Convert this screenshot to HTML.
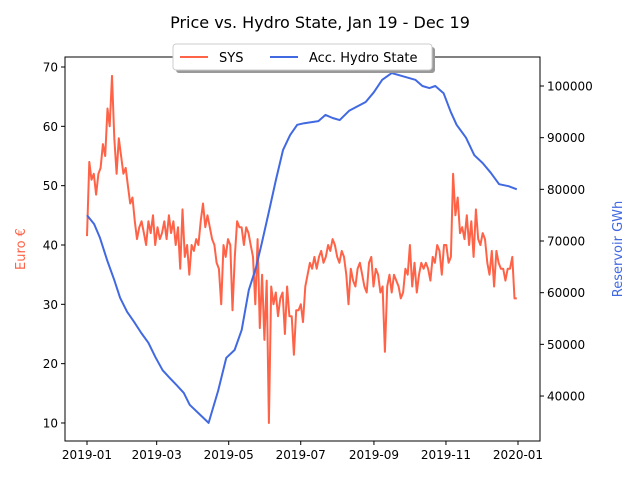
<!DOCTYPE html>
<html><head><meta charset="utf-8"><style>
body{margin:0;background:#fff;font-family:"Liberation Sans","DejaVu Sans",sans-serif}
</style></head><body>
<svg id="c" width="640" height="480" xmlns="http://www.w3.org/2000/svg" font-family="DejaVu Sans, Liberation Sans, sans-serif"></svg>
<script>
const sysValues=[41.5,54,51,52,48.5,52,53,57,55,63,60,68.5,58,52,58,55,52,53,50,47,48,44,41,43,44,42,40,44,42,45,40,43,41,42,44,41,45,42,44,40,43,36,46,38,40,35,40,39,41,40,44,47,43,45,43,41,40,37,36,30,40,38,41,40,29,38,44,43,43,40,43,42,40,38,30,41,26,35,24,34,10,33,30,32,28,31,32,25,33,28,28,21.5,29,29,30,27,33,35,37,36,38,36,38,39,37,38,40,39,41,40,38,37,39,38,35,30,36,34,33,36,37,35,33,32,37,38,33,36,35,32,33,22,33,35,32,35,34,33,31,32,36,35,40,33,37,32,35,37,36,37,36,34,38,37,40,39,35,40,40,37,38,52,45,48,42,43,41,45,40,44,38,46,41,40,42,41,37,35,39,33,39,37,36,36,34,36,36,38,31,31];
const hydroDays=[0,6,11,17,23,28,34,40,46,52,58,64,70,76,82,87,103,111,118,125,131,137,143,148,154,160,166,172,178,184,196,202,208,214,222,236,243,250,258,264,278,284,290,295,302,308,313,321,328,335,342,349,357,364];
const hydroValues=[75000,73300,70600,66300,62500,59000,56300,54300,52200,50300,47500,45000,43500,42100,40600,38300,34800,41000,47400,48900,52800,60500,64800,69600,75600,81800,87600,90500,92500,92800,93200,94400,93800,93400,95200,96900,98800,101200,102500,102100,101200,100000,99600,100000,98600,95000,92500,90000,86600,85100,83200,81000,80600,80000];
const leftTicks=[10,20,30,40,50,60,70];
const rightTicks=[40000,50000,60000,70000,80000,90000,100000];
const xTickLabels=["2019-01","2019-03","2019-05","2019-07","2019-09","2019-11","2020-01"];
const xTickDays=[0,59,120,181,243,304,365];
const L=65,R=540,T=57,B=441;
const X=d=>87+d*(431/365);
const Y1=v=>67+(70-v)*5.933;
const Y2=v=>86+(100000-v)/10000*51.67;
const svg=document.getElementById('c');
const NS='http://www.w3.org/2000/svg';
function el(t,a,txt){const e=document.createElementNS(NS,t);for(const k in a)e.setAttribute(k,a[k]);if(txt!=null)e.textContent=txt;svg.appendChild(e);return e;}
let t=el('text',{x:320,y:28,'text-anchor':'middle','font-size':16},'Price vs. Hydro State, Jan 19 - Dec 19');


let p=sysValues.map((v,i)=>(i?'L':'M')+X(i*364/(sysValues.length-1)).toFixed(1)+' '+Y1(v).toFixed(1)).join('');
let s=el('path',{d:p,fill:'none',stroke:'#ff6347','stroke-width':2,'stroke-linejoin':'round'});


p=hydroValues.map((v,i)=>(i?'L':'M')+X(hydroDays[i]).toFixed(1)+' '+Y2(v).toFixed(1)).join('');
let h=el('path',{d:p,fill:'none',stroke:'#4169e1','stroke-width':2,'stroke-linejoin':'round'});


let fr=el('rect',{x:L,y:T,width:R-L,height:B-T,fill:'none',stroke:'#000','stroke-width':1});


leftTicks.forEach(v=>{const y=Y1(v);el('line',{x1:L-4,x2:L,y1:y,y2:y,stroke:'#000'});
const tt=el('text',{x:L-7,y:y+4.5,'text-anchor':'end','font-size':12},String(v));

});
rightTicks.forEach(v=>{const y=Y2(v);el('line',{x1:R,x2:R+4,y1:y,y2:y,stroke:'#000'});
const tt=el('text',{x:R+7,y:y+4.5,'font-size':12},String(v));

});
xTickDays.forEach((d,i)=>{const x=X(d);el('line',{x1:x,x2:x,y1:B,y2:B+4,stroke:'#000'});
const tt=el('text',{x:x,y:B+18,'text-anchor':'middle','font-size':12},xTickLabels[i]);

});
let yl=el('text',{x:0,y:0,transform:'translate(25,249) rotate(-90)','text-anchor':'middle','font-size':13,fill:'#ff6347'},'Euro €');


let yr=el('text',{x:0,y:0,transform:'translate(622,249) rotate(-90)','text-anchor':'middle','font-size':13,fill:'#4169e1'},'Reservoir GWh');


el('rect',{x:176,y:47,width:259,height:26,rx:3,fill:'#999'});
let lg=el('rect',{x:173,y:44,width:259,height:26,rx:3,fill:'#fff',stroke:'#ccc'});


el('line',{x1:180,x2:208,y1:57,y2:57,stroke:'#ff6347','stroke-width':2});
let l1=el('text',{x:219,y:62,'font-size':13},'SYS');


el('line',{x1:270,x2:298,y1:57,y2:57,stroke:'#4169e1','stroke-width':2});
let l2=el('text',{x:309,y:62,'font-size':13},'Acc. Hydro State');


</script>
</body></html>
